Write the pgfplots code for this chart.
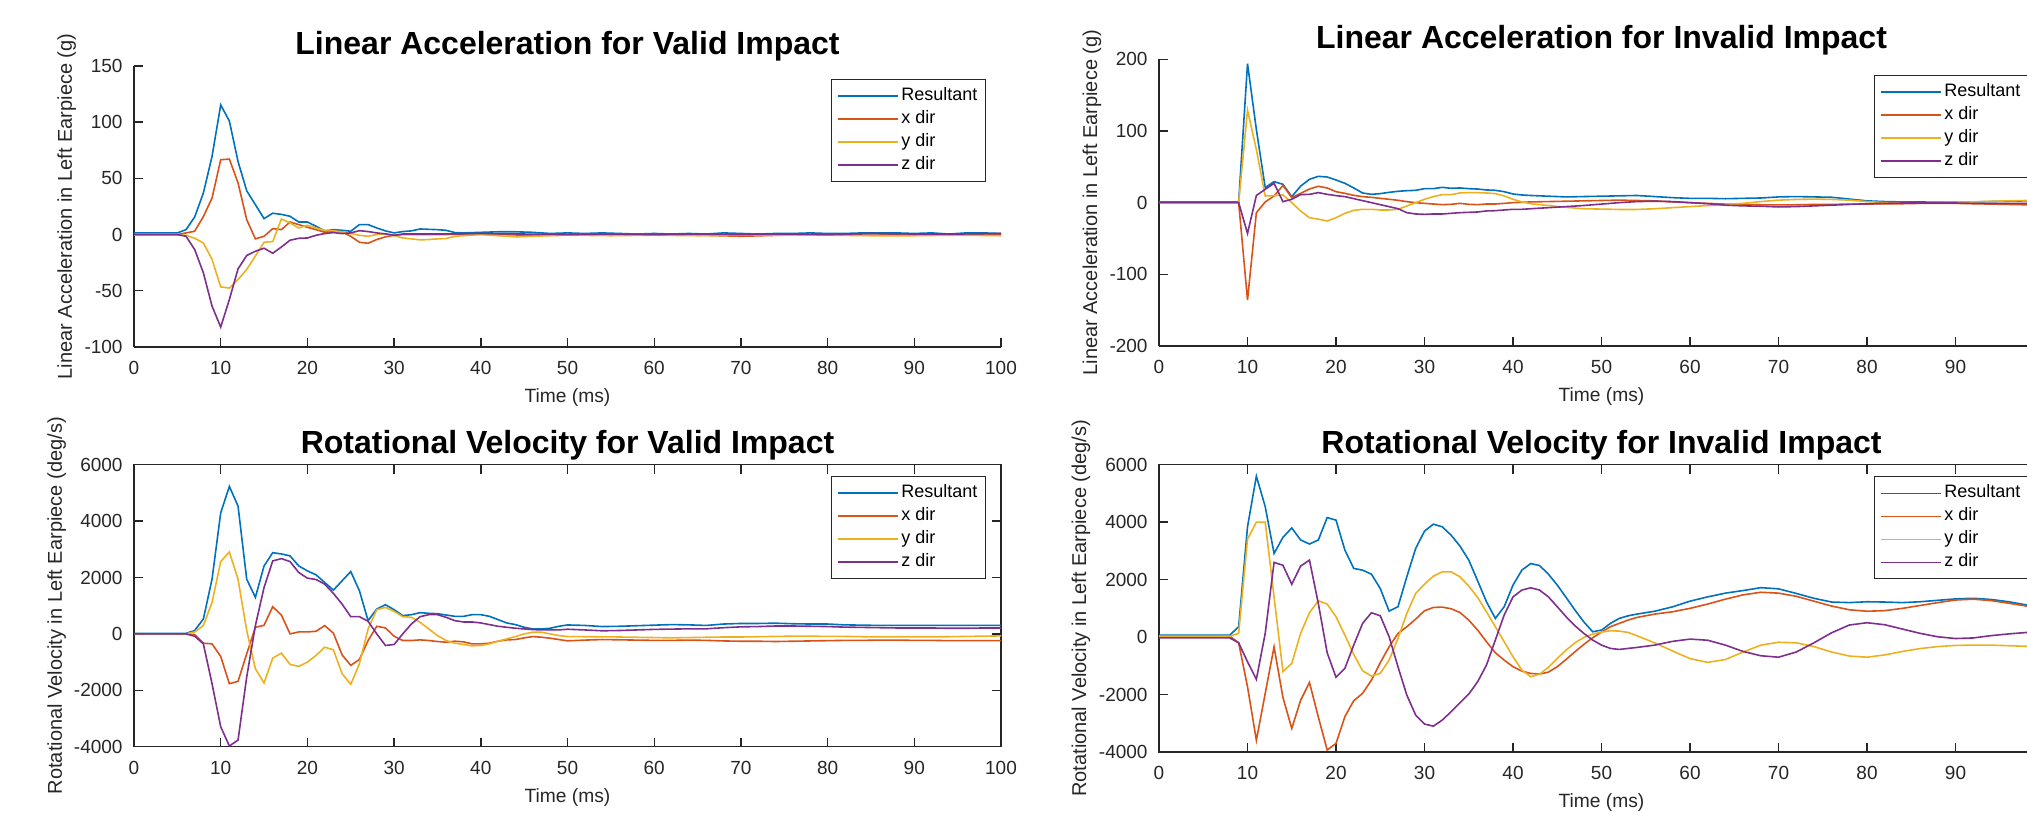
\documentclass[border=0pt]{standalone}
\usepackage{fontspec}
\setmainfont{Liberation Sans}
\usepackage{pgfplots}
\pgfplotsset{compat=1.18}

\definecolor{c1}{rgb}{0,0.447,0.741}
\definecolor{c2}{rgb}{0.85,0.325,0.098}
\definecolor{c3}{rgb}{0.929,0.694,0.125}
\definecolor{c4}{rgb}{0.494,0.184,0.556}
\definecolor{axgray}{rgb}{0.15,0.15,0.15}

\newcommand\ticksize{\fontsize{9.5}{11}\selectfont}
\newcommand\labsize{\fontsize{9.6}{11}\selectfont}
\newcommand\ylabsize{\fontsize{10}{12}\selectfont}
\newcommand\legsize{\fontsize{9}{10}\selectfont}
\newcommand\titsize{\fontsize{16}{19}\selectfont\bfseries}

\pgfplotsset{
  matlab/.style={
    scale only axis,
    xmin=0, xmax=100,
    xtick={0,10,...,100},
    tick align=inside,
    major tick length=4.5pt,
    axis line style={axgray, line width=0.7pt},
    tick style={axgray, line width=0.7pt},
    tick label style={font=\ticksize, color=axgray},
    /pgf/number format/assume math mode=true,
    /pgf/number format/1000 sep={},
    scaled y ticks=false,
    xticklabel style={yshift=-3.5pt},
    yticklabel style={xshift=-2.2pt},
    xlabel={Time (ms)},
    xlabel style={at={([yshift=-27.9pt]axis description cs:0.5,0)}, anchor=base, font=\labsize, color=axgray},
    ylabel style={anchor=base, font=\ylabsize, color=axgray},
    title style={at={([yshift=-0.5pt]axis description cs:0.5,1)}, anchor=base, font=\titsize},
    legend cell align=left,
    legend style={anchor=north east, draw=axgray, line width=0.6pt, font=\legsize,
      inner xsep=2.5pt, inner ysep=2.5pt, row sep=0pt,
      nodes={inner xsep=1.5pt, inner ysep=0pt, text height=8pt, text depth=3.5pt}},
    legend image code/.code={\draw[#1, line width=0.8pt] (0pt,0pt) -- (30pt,0pt);},
    every axis plot/.append style={line width=0.8pt},
  },
  cutx/.style={xticklabels={0,10,20,30,40,50,60,70,80,90,{}}},
}

\begin{document}
\begin{tikzpicture}
\useasboundingbox (0,0) rectangle (1013.5pt,407.5pt);
\clip (0,0) rectangle (1013.5pt,407.5pt);

% ---------------- top left: linear acceleration, valid impact
\begin{axis}[matlab,
    at={(67pt,234pt)}, anchor=south west,
    width=433.5pt, height=140.5pt,
    axis lines*=left, tick align=inside,
    ymin=-100, ymax=150, ytick={-100,-50,...,150},
    title={Linear Acceleration for Valid Impact},
    ylabel={Linear Acceleration in Left Earpiece (g)},
    ylabel style={at={([xshift=-31pt]axis description cs:0,0.5)}},
    legend style={at={(0.9827,0.9537)}},
]
\addplot[c1] coordinates {
 (0,1.5) (1,1.5) (2,1.5) (3,1.5) (4,1.5) (5,1.5) (6,4.4) (7,15.7) (8,37) (9,69.5)
 (10,115.4) (11,101) (12,65) (13,39) (14,26.6) (15,14.2) (16,19) (17,18) (18,16.3) (19,11.2)
 (20,11.2) (21,7.4) (22,3.3) (23,4.4) (24,3.8) (25,3) (26,8.9) (27,8.9) (28,5.9) (29,3.3)
 (30,1.5) (31,2.7) (32,3.3) (33,5) (34,4.7) (35,4.4) (36,3.8) (37,1.8) (38,1.5) (40,2)
 (42,2.5) (44,2.5) (46,2) (48,1) (50,1.5) (52,1) (54,1.5) (56,1) (58,0.5) (60,1)
 (62,0.5) (64,1) (66,0.5) (68,1.5) (70,1) (72,0.5) (74,1) (76,1) (78,1.5) (80,1)
 (82,1) (84,1.5) (86,1.5) (88,1.5) (90,1) (92,1.5) (94,0.5) (96,1.5) (98,1.5) (100,1)
};
\addlegendentry{Resultant}
\addplot[c2] coordinates {
 (0,0) (5,0) (6,1.5) (7,3) (8,16) (9,32.5) (10,66.6) (11,67.2) (12,46) (13,13.3)
 (14,-3.8) (15,-1.5) (16,5.3) (17,4.4) (18,11.2) (19,8.9) (20,6.5) (21,4.4) (22,2) (23,3)
 (24,2.4) (25,-1.5) (26,-6.8) (27,-7.7) (28,-4.4) (29,-2) (30,-0.6) (31,0) (35,0) (40,0.5)
 (45,-0.5) (50,0) (55,0.5) (60,0) (65,-0.5) (70,-1.5) (75,-0.5) (80,0) (85,-0.5) (90,0)
 (95,-0.5) (100,0.5)
};
\addlegendentry{x dir}
\addplot[c3] coordinates {
 (0,-0.5) (5,-0.5) (6,-0.5) (7,-3.3) (8,-7.4) (9,-22) (10,-46.5) (11,-47.6) (12,-40) (13,-31)
 (14,-19) (15,-6.8) (16,-6.2) (17,13.9) (18,10.4) (19,5.9) (20,8.3) (21,5.9) (22,3.8) (23,3.5)
 (24,2.4) (25,0.9) (26,-0.6) (27,-1.5) (28,0) (29,0.9) (30,-0.9) (31,-3) (32,-3.8) (33,-4.7)
 (34,-4.4) (35,-3.8) (36,-3.5) (37,-1.5) (38,-1) (40,0) (42,-1) (44,-2) (46,-1.5) (48,-1)
 (50,-0.5) (55,-1) (60,-0.5) (65,-1) (70,-0.5) (75,-0.5) (80,-0.5) (85,-1) (90,-1) (95,-0.5)
 (100,-1)
};
\addlegendentry{y dir}
\addplot[c4] coordinates {
 (0,0) (5,0) (6,-1.5) (7,-13.3) (8,-34) (9,-63.6) (10,-82.3) (11,-57.7) (12,-30.5) (13,-18.6)
 (14,-14.8) (15,-12.1) (16,-16.6) (17,-11) (18,-5) (19,-3.3) (20,-3) (21,-0.6) (22,0.9) (23,1.8)
 (24,0.9) (25,1.5) (26,3.5) (27,2.7) (28,1.5) (29,0.6) (30,-0.6) (31,0.5) (35,0.5) (40,1)
 (45,0.5) (50,0) (55,0.5) (60,0) (65,0.5) (70,0) (75,0.5) (80,0) (85,1) (90,0.5)
 (95,0.5) (100,1)
};
\addlegendentry{z dir}
\end{axis}

% ---------------- top right: linear acceleration, invalid impact
\begin{axis}[matlab, cutx,
    at={(579.5pt,234.5pt)}, anchor=south west,
    width=442.5pt, height=143.35pt,
    axis lines*=left, tick align=inside,
    ymin=-200, ymax=200, ytick={-200,-100,...,200},
    title={Linear Acceleration for Invalid Impact},
    ylabel={Linear Acceleration in Left Earpiece (g)},
    ylabel style={at={([xshift=-31pt]axis description cs:0,0.5)}},
    legend style={at={(0.983,0.945)}},
]
\addplot[c1] coordinates {
 (0,1) (9,1) (10,194) (11,102) (12,21) (13,29.3) (14,25.6) (15,8.4) (16,23) (17,32.6)
 (18,36.7) (19,35.8) (20,31.6) (21,27) (22,20.5) (23,13.5) (24,11.6) (25,12.6) (26,14.4) (27,15.8)
 (28,16.7) (29,17.2) (30,19.5) (31,19.5) (32,21.4) (33,20) (34,20.5) (35,19.5) (36,19) (37,17.7)
 (38,17.2) (39,15.3) (40,12.1) (41,10.7) (42,10) (44,9) (46,8) (48,8.5) (50,9) (52,9.5)
 (54,10) (56,8.5) (58,7) (60,6) (62,6) (64,5.5) (66,6) (68,6.5) (70,8) (72,8.5)
 (74,8) (76,7.5) (78,5) (80,2.5) (82,1.5) (84,1) (86,1) (88,0.5) (90,0.5) (92,1)
 (94,1.5) (96,2) (98,2.5) (100,3)
};
\addlegendentry{Resultant}
\addplot[c2] coordinates {
 (0,0) (9,0) (10,-136) (11,-14) (12,1) (13,9.3) (14,24) (15,7) (16,13) (17,19)
 (18,22.8) (19,20.5) (20,15.3) (21,13) (22,10.2) (23,8.4) (24,7.4) (25,6) (26,4.7) (27,3.3)
 (28,1.4) (29,0) (30,-1) (31,-1.9) (32,-2.8) (33,-2.3) (34,-1) (35,-2.3) (36,-2.8) (37,-1.9)
 (38,-1.9) (39,-1) (40,0) (41,0.5) (42,1) (44,1.5) (46,2) (48,2.5) (50,3) (52,3.5)
 (54,3) (56,2.5) (58,1) (60,0) (62,-1) (64,-2) (66,-2.5) (68,-3) (70,-3) (72,-3)
 (74,-2.5) (76,-2.5) (78,-2) (80,-2) (82,-1.5) (84,-1.5) (86,-1) (88,-1) (90,-1) (92,-1.5)
 (94,-2) (96,-2.5) (98,-3) (100,-3)
};
\addlegendentry{x dir}
\addplot[c3] coordinates {
 (0,0) (9,0) (10,129) (11,74) (12,9.3) (13,9.8) (14,10.7) (15,0) (16,-11.6) (17,-21)
 (18,-23) (19,-25.6) (20,-21) (21,-15) (22,-10.7) (23,-9.3) (24,-9.3) (25,-10.2) (26,-10.2) (27,-9.3)
 (28,-4.7) (29,0) (30,4.7) (31,8.4) (32,11.2) (33,11.2) (34,13.5) (35,14) (36,14) (37,13.5)
 (38,12.6) (39,9.3) (40,4.7) (41,1) (42,-1.5) (44,-4) (46,-6.5) (48,-8.5) (50,-9) (52,-9.5)
 (54,-9.5) (56,-8.5) (58,-7) (60,-5.5) (62,-4) (64,-2.5) (66,-1) (68,1.5) (70,3.5) (72,4.5)
 (74,5) (76,4.5) (78,3.5) (80,1.5) (82,0) (84,0) (86,-0.5) (88,0) (90,0.5) (92,1)
 (94,2) (96,2.5) (98,3) (100,3)
};
\addlegendentry{y dir}
\addplot[c4] coordinates {
 (0,0) (9,0) (10,-43) (11,10) (12,18.6) (13,27) (14,1.4) (15,4.7) (16,11.2) (17,11.6)
 (18,14) (19,11.6) (20,9.8) (21,8.4) (22,5.6) (23,2.8) (24,0) (25,-2.8) (26,-5.6) (27,-8.4)
 (28,-14) (29,-15.8) (30,-16.3) (31,-15.8) (32,-15.8) (33,-14.9) (34,-14) (35,-13.5) (36,-13) (37,-11.6)
 (38,-11.2) (39,-10.2) (40,-9.3) (41,-9.3) (42,-8.5) (44,-7) (46,-5.5) (48,-4) (50,-2) (52,0)
 (54,1.5) (56,2) (58,1.5) (60,0) (62,-1.5) (64,-3.5) (66,-4.5) (68,-5) (70,-6) (72,-5.5)
 (74,-4.5) (76,-3.5) (78,-2.5) (80,-1.5) (82,-1) (84,-0.5) (86,-0.5) (88,-0.5) (90,-0.5) (92,-1)
 (94,-1) (96,-1) (98,-1) (100,-1)
};
\addlegendentry{z dir}
\end{axis}

% ---------------- bottom left: rotational velocity, valid impact
\begin{axis}[matlab,
    at={(67pt,34.15pt)}, anchor=south west,
    width=433.5pt, height=141pt,
    ymin=-4000, ymax=6000, ytick={-4000,-2000,...,6000},
    title={Rotational Velocity for Valid Impact},
    ylabel={Rotational Velocity in Left Earpiece (deg/s)},
    ylabel style={at={([xshift=-36pt]axis description cs:0,0.5)}},
    legend style={at={(0.9827,0.96)}},
]
\addplot[c1] coordinates {
 (0,20) (6,20) (7,118) (8,529) (9,1940) (10,4290) (11,5230) (12,4530) (13,1940) (14,1294)
 (15,2410) (16,2880) (17,2835) (18,2765) (19,2410) (20,2235) (21,2093) (22,1823) (23,1552) (24,1882)
 (25,2210) (26,1530) (27,470) (28,882) (29,1035) (30,858) (31,647) (32,682) (33,753) (34,729)
 (35,717) (36,670) (37,623) (38,623) (39,682) (40,682) (41,623) (42,505) (43,388) (44,329)
 (45,235) (46,176) (47,176) (48,200) (49,270) (50,317) (52,300) (54,260) (56,270) (58,290)
 (60,310) (62,330) (64,320) (66,300) (68,350) (70,370) (72,370) (74,380) (76,360) (78,350)
 (80,350) (82,320) (84,310) (86,300) (88,300) (90,300) (92,300) (94,300) (96,300) (98,300) (100,300)
};
\addlegendentry{Resultant}
\addplot[c2] coordinates {
 (0,0) (6,0) (7,-24) (8,-330) (9,-353) (10,-800) (11,-1764) (12,-1682) (13,-706) (14,235)
 (15,306) (16,964) (17,670) (18,0) (19,70) (20,70) (21,94) (22,294) (23,24) (24,-741)
 (25,-1117) (26,-905) (27,-235) (28,270) (29,212) (30,-82) (31,-235) (32,-235) (33,-212) (34,-235)
 (35,-270) (36,-294) (37,-259) (38,-282) (39,-353) (40,-353) (41,-329) (42,-259) (43,-212) (44,-200)
 (45,-141) (46,-94) (47,-118) (48,-153) (49,-200) (50,-247) (52,-220) (54,-200) (56,-210) (58,-220)
 (60,-230) (62,-230) (64,-220) (66,-230) (68,-250) (70,-260) (72,-260) (74,-270) (76,-260) (78,-250)
 (80,-240) (82,-230) (84,-230) (86,-220) (88,-220) (90,-230) (92,-230) (94,-240) (96,-240) (98,-240) (100,-240)
};
\addlegendentry{x dir}
\addplot[c3] coordinates {
 (0,0) (6,0) (7,70) (8,294) (9,1117) (10,2564) (11,2905) (12,1940) (13,118) (14,-1235)
 (15,-1740) (16,-858) (17,-682) (18,-1082) (19,-1152) (20,-1000) (21,-764) (22,-470) (23,-564) (24,-1411)
 (25,-1787) (26,-1058) (27,176) (28,858) (29,941) (30,800) (31,611) (32,588) (33,411) (34,176)
 (35,-59) (36,-235) (37,-329) (38,-376) (39,-423) (40,-411) (41,-353) (42,-259) (43,-176) (44,-94)
 (45,0) (46,59) (47,59) (48,0) (49,-59) (50,-94) (52,-100) (54,-100) (56,-110) (58,-120)
 (60,-130) (62,-140) (64,-130) (66,-120) (68,-110) (70,-110) (72,-100) (74,-90) (76,-80) (78,-80)
 (80,-90) (82,-90) (84,-100) (86,-100) (88,-100) (90,-100) (92,-100) (94,-100) (96,-90) (98,-80) (100,-70)
};
\addlegendentry{y dir}
\addplot[c4] coordinates {
 (0,0) (6,0) (7,-82) (8,-353) (9,-1764) (10,-3293) (11,-3975) (12,-3764) (13,-1529) (14,294)
 (15,1646) (16,2587) (17,2670) (18,2564) (19,2176) (20,1976) (21,1929) (22,1764) (23,1435) (24,1058)
 (25,611) (26,611) (27,447) (28,0) (29,-411) (30,-376) (31,0) (32,353) (33,611) (34,682)
 (35,682) (36,588) (37,470) (38,423) (39,423) (40,388) (41,329) (42,270) (43,235) (44,200)
 (45,176) (46,153) (47,141) (48,141) (49,141) (50,165) (52,140) (54,110) (56,120) (58,140)
 (60,160) (62,170) (64,180) (66,180) (68,220) (70,250) (72,260) (74,280) (76,280) (78,270)
 (80,260) (82,240) (84,230) (86,220) (88,210) (90,210) (92,210) (94,200) (96,200) (98,210) (100,210)
};
\addlegendentry{z dir}
\end{axis}

% ---------------- bottom right: rotational velocity, invalid impact
\begin{axis}[matlab, cutx,
    at={(579.5pt,31.5pt)}, anchor=south west,
    width=442.5pt, height=143.65pt,
    ymin=-4000, ymax=6000, ytick={-4000,-2000,...,6000},
    title={Rotational Velocity for Invalid Impact},
    ylabel={Rotational Velocity in Left Earpiece (deg/s)},
    ylabel style={at={([xshift=-36.5pt]axis description cs:0,0.5)}},
    legend style={at={(0.983,0.96)}},
]
\addplot[c1] coordinates {
 (0,70) (8,70) (9,360) (10,3840) (11,5600) (12,4540) (13,2910) (14,3470) (15,3800) (16,3380)
 (17,3240) (18,3380) (19,4160) (20,4070) (21,3030) (22,2390) (23,2330) (24,2190) (25,1690) (26,905)
 (27,1056) (28,2100) (29,3085) (30,3690) (31,3930) (32,3840) (33,3550) (34,3170) (35,2680) (36,1960)
 (37,1230) (38,650) (39,1056) (40,1810) (41,2330) (42,2560) (43,2490) (44,2190) (45,1810) (46,1380)
 (47,940) (48,530) (49,185) (50,245) (51,475) (52,650) (53,740) (54,800) (56,900) (58,1050)
 (60,1250) (62,1400) (64,1530) (66,1620) (68,1720) (70,1680) (72,1520) (74,1350) (76,1220) (78,1200)
 (80,1230) (82,1220) (84,1200) (86,1230) (88,1280) (90,1330) (92,1350) (94,1310) (96,1230) (98,1120) (100,1050)
};
\addlegendentry{Resultant}
\addplot[c2] coordinates {
 (0,30) (8,30) (9,-200) (10,-1730) (11,-3590) (12,-1960) (13,-340) (14,-2100) (15,-3180) (16,-2200)
 (17,-1580) (18,-2780) (19,-3930) (20,-3700) (21,-2770) (22,-2215) (23,-1960) (24,-1500) (25,-893) (26,-336)
 (27,128) (28,360) (29,626) (30,916) (31,1032) (32,1044) (33,986) (34,858) (35,592) (36,244)
 (37,-162) (38,-545) (39,-800) (40,-1032) (41,-1183) (42,-1264) (43,-1288) (44,-1218) (45,-1032) (46,-777)
 (47,-510) (48,-255) (49,-23) (50,174) (51,360) (52,476) (53,592) (54,684) (56,800) (58,880)
 (60,1000) (62,1150) (64,1320) (66,1470) (68,1560) (70,1530) (72,1420) (74,1250) (76,1080) (78,950)
 (80,900) (82,920) (84,1000) (86,1100) (88,1200) (90,1290) (92,1320) (94,1270) (96,1180) (98,1080) (100,1000)
};
\addlegendentry{x dir}
\addplot[c3] coordinates {
 (0,30) (8,30) (9,128) (10,3410) (11,4000) (12,4000) (13,1400) (14,-1200) (15,-916) (16,128)
 (17,847) (18,1264) (19,1148) (20,708) (21,70) (22,-603) (23,-1170) (24,-1357) (25,-1264) (26,-800)
 (27,-46) (28,824) (29,1520) (30,1844) (31,2120) (32,2270) (33,2270) (34,2100) (35,1775) (36,1380)
 (37,880) (38,360) (39,-162) (40,-684) (41,-1148) (42,-1380) (43,-1288) (44,-1055) (45,-742) (46,-452)
 (47,-197) (48,-12) (49,104) (50,174) (51,220) (52,209) (53,162) (54,46) (56,-200) (58,-480)
 (60,-750) (62,-880) (64,-780) (66,-520) (68,-280) (70,-180) (72,-200) (74,-330) (76,-520) (78,-660)
 (80,-700) (82,-620) (84,-500) (86,-400) (88,-330) (90,-290) (92,-280) (94,-280) (96,-300) (98,-320) (100,-330)
};
\addlegendentry{y dir}
\addplot[c4] coordinates {
 (0,-30) (8,-30) (9,-200) (10,-860) (11,-1470) (12,128) (13,2600) (14,2500) (15,1840) (16,2470)
 (17,2680) (18,1170) (19,-545) (20,-1400) (21,-1090) (22,-280) (23,476) (24,847) (25,742) (26,12)
 (27,-1032) (28,-2020) (29,-2714) (30,-3028) (31,-3100) (32,-2890) (33,-2600) (34,-2285) (35,-1984) (36,-1555)
 (37,-975) (38,-104) (39,766) (40,1400) (41,1636) (42,1717) (43,1636) (44,1400) (45,1056) (46,708)
 (47,394) (48,128) (49,-104) (50,-278) (51,-394) (52,-430) (53,-394) (54,-360) (56,-280) (58,-150)
 (60,-70) (62,-110) (64,-280) (66,-500) (68,-650) (70,-700) (72,-520) (74,-200) (76,150) (78,420)
 (80,500) (82,430) (84,280) (86,130) (88,10) (90,-50) (92,-30) (94,50) (96,110) (98,160) (100,200)
};
\addlegendentry{z dir}
\end{axis}
\end{tikzpicture}
\end{document}
